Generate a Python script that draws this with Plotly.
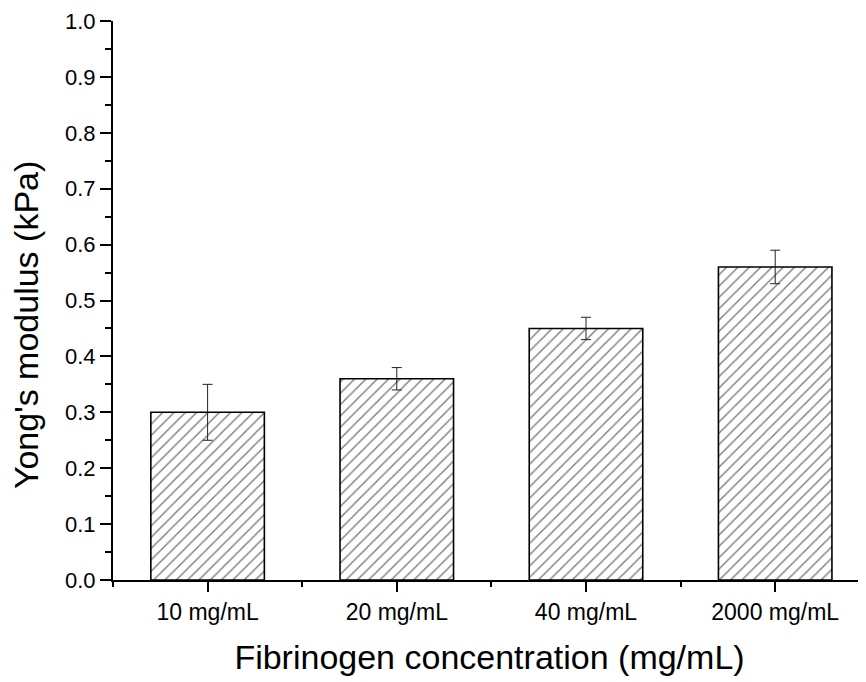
import plotly.graph_objects as go

categories = ["10 mg/mL", "20 mg/mL", "40 mg/mL", "2000 mg/mL"]
values = [0.30, 0.36, 0.45, 0.56]
errors = [0.05, 0.02, 0.02, 0.03]
yticks = [0.0, 0.1, 0.2, 0.3, 0.4, 0.5, 0.6, 0.7, 0.8, 0.9, 1.0]
xpos = list(range(len(categories)))

fig = go.Figure()
fig.add_trace(go.Bar(
    x=xpos, y=values, width=0.6,
    marker=dict(color="white", line=dict(color="black", width=1.6),
                pattern=dict(shape="/", fgcolor="black", bgcolor="white", size=8, solidity=0.18)),
    error_y=dict(type="data", array=errors, visible=True, color="#222", thickness=1, width=5),
    showlegend=False,
))

font = "Liberation Sans, Arial, sans-serif"
fig.update_layout(
    width=858, height=674,
    margin=dict(l=105, r=0, t=13, b=102),
    plot_bgcolor="white", paper_bgcolor="white",
    font=dict(family=font, color="black"),
    xaxis=dict(
        range=[-0.5, 3.48], tickvals=xpos, ticktext=categories,
        showgrid=False, zeroline=False, showline=True, linecolor="black", linewidth=2,
        ticks="outside", ticklen=10, tickwidth=2, tickcolor="black",
        tickfont=dict(size=23),
        minor=dict(tick0=0.5, dtick=1, ticks="outside", ticklen=5, tickwidth=2, tickcolor="black"),
        title=dict(text="Fibrinogen concentration (mg/mL)", font=dict(size=34), standoff=22),
    ),
    yaxis=dict(
        range=[0, 1.0], tickvals=yticks, ticktext=[f"{v:.1f}" for v in yticks],
        showgrid=False, zeroline=False, showline=True, linecolor="black", linewidth=2,
        ticks="outside", ticklen=11, tickwidth=2, tickcolor="black",
        tickfont=dict(size=22),
        minor=dict(tick0=0.05, dtick=0.1, ticks="outside", ticklen=6, tickwidth=2, tickcolor="black"),
    ),
    annotations=[dict(
        text="Yong's modulus (kPa)", textangle=-90, showarrow=False,
        xref="paper", yref="paper", x=-0.1155, y=0.456,
        xanchor="center", yanchor="middle", font=dict(size=34),
    )],
)

fig.write_html("out.html")
